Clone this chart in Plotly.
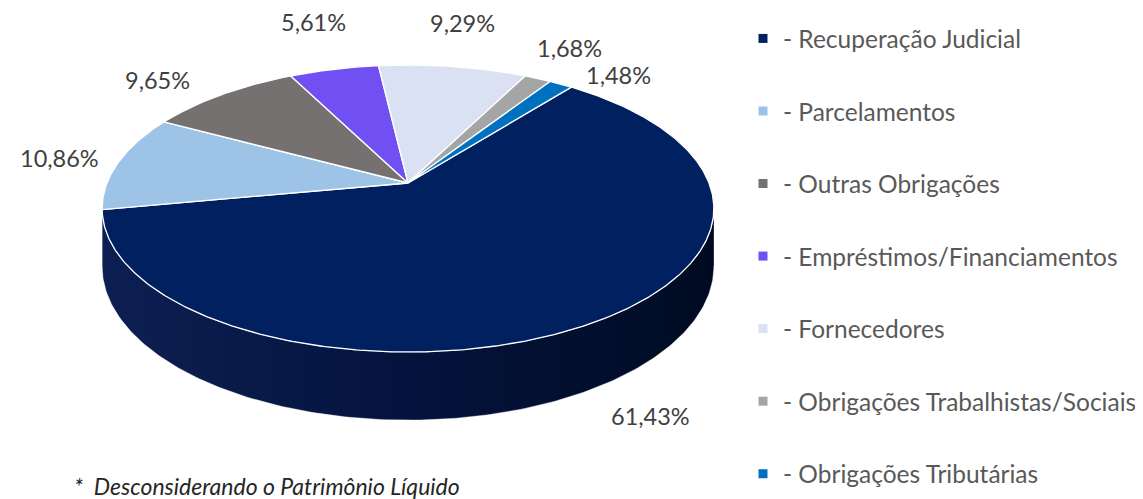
import numpy as np
import plotly.graph_objects as go

# ---------------- data ----------------
categories = [
    "Recuperação Judicial",
    "Parcelamentos",
    "Outras Obrigações",
    "Empréstimos/Financiamentos",
    "Fornecedores",
    "Obrigações Trabalhistas/Sociais",
    "Obrigações Tributárias",
]
values = [61.43, 10.86, 9.65, 5.61, 9.29, 1.68, 1.48]
colors = ["#002060", "#9DC3E6", "#767171", "#7050F2", "#D9E1F2", "#A5A5A5", "#0070C0"]
legend_prefix = "- "
footnote = "*  Desconsiderando o Patrimônio Líquido"

# label placement tweaks (pixels), mimicking the spreadsheet's manual label layout
label_nudge = [(13, -8), (0, 0), (-17, 8), (4, -9), (-5, -6), (-8, 1), (14, 19)]

# ---------------- geometry (3D pie projection) ----------------
W, H = 1143, 499
OFF = 8                # page body margin: axes are shifted so data units == screen pixels
CX, CY = 408, 183      # apex of the pie on screen
R = 301                # horizontal radius
RT = 139               # vertical radius (tilted)
PD = 5.63              # perspective distance
DEPTH = 56             # thickness of the pie
START = 38.2           # first slice start angle (deg, clockwise from 12 o'clock)
FONT = "Lato"


def proj(theta_deg, drop=0.0):
    t = np.radians(theta_deg)
    u = np.sin(t)
    v = -np.cos(t)
    f = PD / (PD - v)
    return CX + R * u * f, CY + RT * v * f + drop * f


total = sum(values)
angles = [360.0 * v / total for v in values]
starts = np.cumsum([START] + angles[:-1])
ends = starts + np.array(angles)

fig = go.Figure()

# side wall (visible front half)
th_r = np.degrees(np.arccos(-1.0 / PD))
th_l = 360 - th_r
ths = np.linspace(th_r, th_l, 200)
tx, ty = proj(ths)
bx, by = proj(ths[::-1], DEPTH)
fig.add_trace(go.Scatter(
    x=np.concatenate([tx, bx]), y=np.concatenate([ty, by]),
    mode="lines", fill="toself",
    line=dict(color="rgba(255,255,255,0.5)", width=0.8),
    fillgradient=dict(type="horizontal",
                      colorscale=[[0, "#0d1f52"], [0.45, "#051440"], [1, "#000b22"]]),
    hoverinfo="skip", showlegend=False,
))

# top faces
for cat, s, e, col in zip(categories, starts, ends, colors):
    th = np.linspace(s, e, max(int((e - s) * 2), 4))
    px, py = proj(th)
    xs = np.concatenate([[CX], px, [CX]])
    ys = np.concatenate([[CY], py, [CY]])
    fig.add_trace(go.Scatter(
        x=xs, y=ys, mode="lines", fill="toself", fillcolor=col,
        line=dict(color="white", width=1.3),
        hoverinfo="skip", showlegend=False,
    ))

# data labels
LF = 23.5
GAP = 18
annotations = []
for val, s, e, (nx, ny) in zip(values, starts, ends, label_nudge):
    mid = (s + e) / 2.0
    rx, ry = proj(mid)
    dx, dy = rx - CX, ry - CY
    n = np.hypot(dx, dy)
    dx, dy = dx / n, dy / n
    m = mid % 360
    if th_r < m < th_l:
        rx, ry = proj(mid, DEPTH)
    txt = f"{val:.2f}".replace(".", ",") + "%"
    nd = sum(ch.isdigit() for ch in txt)
    w = LF * (0.58 * nd + 0.25 + 0.85)
    h = LF * 0.95
    ext = abs(dx) * w / 2 + abs(dy) * h / 2
    lx = rx + dx * (GAP + ext) + nx
    ly = ry + dy * (GAP + ext) + ny
    annotations.append(dict(
        x=lx, y=ly, xref="x", yref="y", text=txt, showarrow=False,
        font=dict(family=FONT, size=LF, color="#404040"),
        xanchor="center", yanchor="middle",
    ))

annotations.append(dict(
    x=72, y=486, xref="x", yref="y", text=f"<i>{footnote}</i>", showarrow=False,
    font=dict(family=FONT, size=23, color="#262626"),
    xanchor="left", yanchor="middle",
))

# legend entries
for i, (cat, col) in enumerate(zip(categories, colors)):
    fig.add_trace(go.Scatter(
        x=[None], y=[None], mode="markers", name=legend_prefix + cat,
        marker=dict(symbol="square", size=9, color=col),
        legendgroup=f"g{i}", showlegend=True,
    ))

fig.update_layout(
    width=W, height=H,
    margin=dict(l=0, r=0, t=0, b=0),
    paper_bgcolor="white", plot_bgcolor="white",
    xaxis=dict(range=[OFF, W + OFF], visible=False, fixedrange=True),
    yaxis=dict(range=[H + OFF, OFF], visible=False, fixedrange=True),
    showlegend=True,
    legend=dict(
        x=735 / W, xanchor="left", y=1 - 8 / H, yanchor="top",
        font=dict(family=FONT, size=24.5, color="#595959"),
        tracegroupgap=37.7, traceorder="grouped",
        bgcolor="rgba(0,0,0,0)", itemclick=False, itemdoubleclick=False,
    ),
    annotations=annotations,
)

fig.write_html("out.html")
